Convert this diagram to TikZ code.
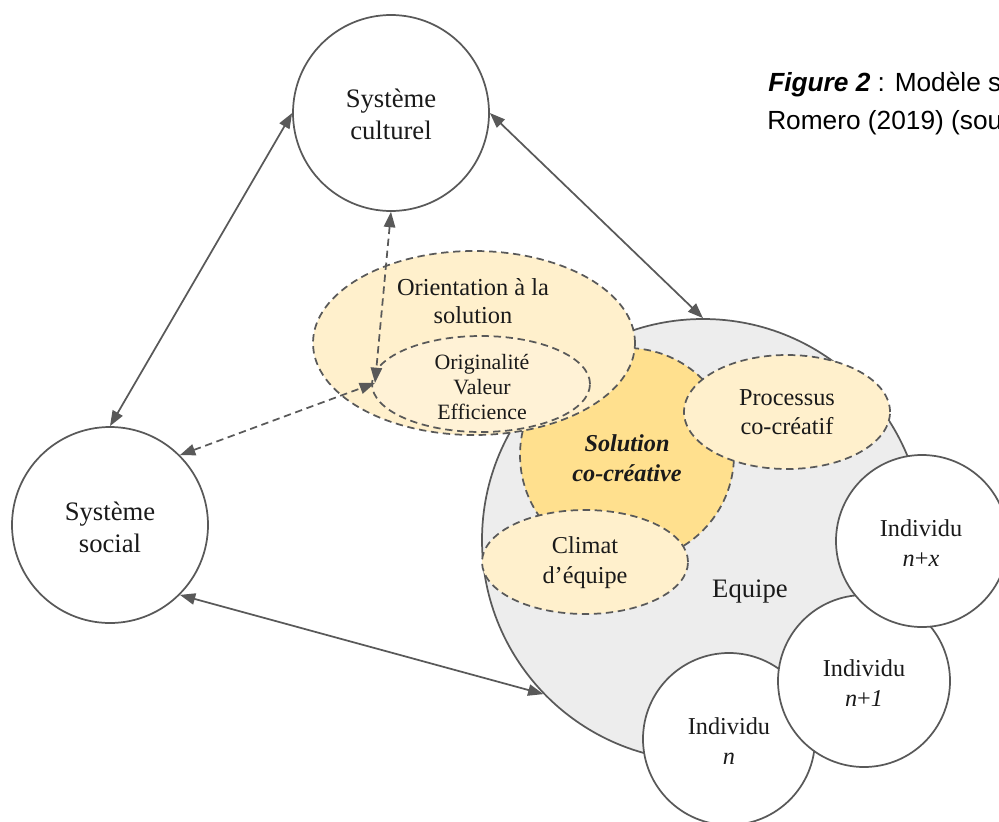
\documentclass[tikz,border=0pt]{standalone}
\usepackage{fontspec}
\setmainfont{Liberation Serif}
\newfontfamily\capfont{Liberation Sans}
\usetikzlibrary{shapes.geometric,arrows.meta}
\definecolor{lg}{HTML}{595959}
\definecolor{eqfill}{HTML}{EDEDED}
\definecolor{paley}{HTML}{FFF0CC}
\definecolor{paley2}{HTML}{FFF2D6}
\definecolor{goldy}{HTML}{FFE08E}
\definecolor{txt}{HTML}{1A1A1A}
\begin{document}
\begin{tikzpicture}[x=0.75pt,y=-0.75pt,
  circ/.style={circle,draw=lg,line width=1.3pt,fill=white,inner sep=0pt,minimum size=#1},
  dashell/.style={ellipse,draw=lg,line width=1.3pt,dash pattern=on 5.5pt off 3.5pt,inner sep=0pt},
  lab/.style={align=center,inner sep=0pt,text=txt},
  conn/.style={draw=lg,line width=1.3pt,{Triangle[length=11.5pt,width=8.5pt]}-{Triangle[length=11.5pt,width=8.5pt]}},
  dconn/.style={conn,dash pattern=on 5.5pt off 3.5pt},
  fA/.style={font={\fontsize{20}{24}\selectfont}},
  fB/.style={font={\fontsize{18.2}{22.5}\selectfont}},
  fC/.style={font={\fontsize{16.4}{18.75}\selectfont}}]
\useasboundingbox (0,0) rectangle (999,821);
\clip (0,0) rectangle (999,821);
% Equipe
\node[circ=331.5pt,fill=eqfill] (equipe) at (703,540) {};
% Solution co-creative
\node[circle,draw=lg,line width=1.3pt,dash pattern=on 5.5pt off 3.5pt,fill=goldy,inner sep=0pt,minimum size=160.5pt] (sol) at (627,455) {};
% Processus, Climat
\node[dashell,fill=paley,minimum width=154.5pt,minimum height=85.5pt] (proc) at (787,412) {};
\node[dashell,fill=paley,minimum width=154.5pt,minimum height=78pt] (clim) at (585,562) {};
% Orientation
\node[dashell,fill=paley,minimum width=241.5pt,minimum height=138pt] (orient) at (474,343) {};
\node[dashell,fill=paley2,minimum width=163.5pt,minimum height=72pt] (inner) at (481,384) {};
% Individus
\node[circ=129pt] (indn) at (729,739) {};
\node[circ=129pt] (indn1) at (864,681) {};
\node[circ=129pt] (indnx) at (922,541) {};
% Systems
\node[circ=147pt] (cult) at (391,113) {};
\node[circ=147pt] (soc) at (110,525) {};
% connectors
\coordinate (meet) at (375,383);
\draw[conn] (cult.west) -- (soc.north);
\draw[conn] (cult.east) -- (equipe.north);
\draw[conn] (soc.south east) -- (equipe.224);
\draw[dconn] (cult.south) -- (meet);
\draw[dconn] (soc.north east) -- (meet);
% labels
\node[lab,fA] (tcult) at (391,114) {Système\\culturel};
\node[lab,fA] (tsoc) at (110,527) {Système\\social};
\node[lab,font={\fontsize{18.3}{21}\selectfont}] (torient) at (473,301) {Orientation à la\\solution};
\node[lab,fC] (tinner) at (482,387) {Originalité\\Valeur\\Efficience};
\node[lab,font={\fontsize{18.2}{22.5}\selectfont\bfseries\itshape}] (tsol) at (627,458) {Solution\\co-créative};
\node[lab,font={\fontsize{18.2}{21.75}\selectfont}] (tproc) at (787,412) {Processus\\co-créatif};
\node[lab,fB] (tclim) at (585,563) {Climat\\d’équipe};
\node[lab,fA] (teq) at (750,592) {Equipe};
\node[lab,fB] (tn) at (729,741) {Individu\\\textit{n}};
\node[lab,fB] (tn1) at (864,683) {Individu\\\textit{n}+\textit{1}};
\node[lab,fB] (tnx) at (921,543) {Individu\\\textit{n}+\textit{x}};
% caption (cut at the right edge, as in the reference)
\node[inner sep=0pt,anchor=base west,text=black,font={\capfont\fontsize{19.7}{28.5}\selectfont}] (cap1) at (768,91) {\textbf{\textit{Figure 2}} : Modèle s};
\node[inner sep=0pt,anchor=base west,text=black,font={\capfont\fontsize{19.7}{28.5}\selectfont}] (cap2) at (767,129) {Romero (2019) (sou};
\end{tikzpicture}
\end{document}
